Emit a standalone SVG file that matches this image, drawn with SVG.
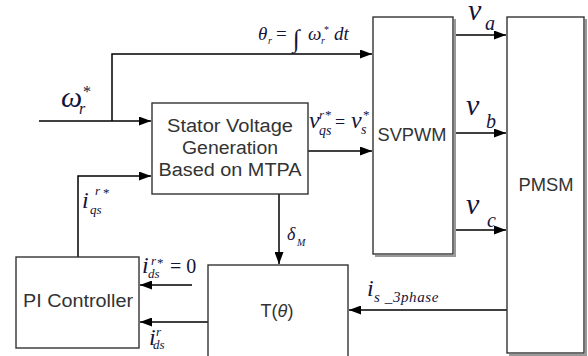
<svg xmlns="http://www.w3.org/2000/svg" width="588" height="356" viewBox="0 0 588 356">
<defs>
<marker id="ah" markerUnits="userSpaceOnUse" markerWidth="13" markerHeight="9" refX="12" refY="4.5" orient="auto"><path d="M0,0 L12,4.5 L0,9 z" fill="#000"/></marker>
<style>
.box{fill:#fff;stroke:#333;stroke-width:1.4}
.sh{fill:none;stroke:#999;stroke-width:2}
.lbl{font-family:"Liberation Sans",Arial,sans-serif;font-size:18px;fill:#333;text-anchor:middle}
.m{font-family:"Liberation Serif","Times New Roman",serif;font-style:italic;fill:#14143a}
.u{font-style:normal}
.ca{fill:none;stroke:#000;stroke-width:1.5;marker-end:url(#ah)}
</style>
</defs>
<rect width="588" height="356" fill="#fff"/>

<g id="connectors">
<path class="ca" d="M39,121 H151"/>
<path class="ca" d="M112,121 V54 H372"/>
<path class="ca" d="M308,151 H372"/>
<path class="ca" d="M455,35 H506"/>
<path class="ca" d="M455,133 H506"/>
<path class="ca" d="M455,230 H506"/>
<path class="ca" d="M279,194 V264"/>
<path class="ca" d="M507,310 H349"/>
<path class="ca" d="M192,285 H140"/>
<path class="ca" d="M208,322 H140"/>
<path class="ca" d="M78,257 V176 H151"/>
</g>

<g id="stator">
<rect class="box" x="152" y="103" width="156" height="91"/>
<text class="lbl" x="230" y="132" textLength="126" lengthAdjust="spacingAndGlyphs">Stator Voltage</text>
<text class="lbl" x="230" y="154" textLength="96" lengthAdjust="spacingAndGlyphs">Generation</text>
<text class="lbl" x="230" y="176" textLength="143" lengthAdjust="spacingAndGlyphs">Based on MTPA</text>
</g>

<g id="svpwm">
<path class="sh" d="M455,19 V256 H375"/>
<rect class="box" x="373" y="17" width="80" height="237"/>
<text class="lbl" x="412" y="141" textLength="69" lengthAdjust="spacingAndGlyphs">SVPWM</text>
</g>

<g id="pmsm">
<path class="sh" d="M586,19 V355 H509"/>
<rect class="box" x="507" y="17" width="77" height="336"/>
<text class="lbl" x="546" y="191" textLength="55" lengthAdjust="spacingAndGlyphs">PMSM</text>
</g>

<g id="pi">
<rect class="box" x="16" y="257" width="123" height="91"/>
<text class="lbl" x="78" y="307" textLength="110" lengthAdjust="spacingAndGlyphs">PI Controller</text>
</g>

<g id="ttheta">
<rect class="box" x="208" y="265" width="140" height="92"/>
<text class="lbl" x="277" y="317">T(<tspan font-style="italic">θ</tspan>)</text>
</g>

<g id="labels">
<text class="m" font-size="19"><tspan x="258" y="40">θ</tspan><tspan x="268" y="44" font-size="10">r</tspan><tspan class="u" x="276" y="40">=</tspan><tspan class="u" x="293" y="47" font-size="25">∫</tspan><tspan x="308" y="40">ω</tspan><tspan x="321" y="44" font-size="10">r</tspan><tspan class="u" x="324" y="33" font-size="10">*</tspan><tspan x="334" y="40">dt</tspan></text>

<text class="m" font-size="30"><tspan x="61" y="107">ω</tspan><tspan class="u" x="83" y="97" font-size="16">*</tspan><tspan x="79" y="114" font-size="16">r</tspan></text>

<text class="m" font-size="24"><tspan x="309" y="128">v</tspan><tspan x="319" y="119" font-size="13">r</tspan><tspan class="u" x="325" y="119" font-size="13">*</tspan><tspan x="319" y="135" font-size="14">qs</tspan><tspan class="u" x="335" y="128" font-size="18">=</tspan><tspan x="351" y="128">v</tspan><tspan class="u" x="363" y="119" font-size="13">*</tspan><tspan x="361" y="134" font-size="14">s</tspan></text>

<text class="m" font-size="30"><tspan x="468" y="20">v</tspan><tspan x="485" y="30" font-size="20">a</tspan></text>
<text class="m" font-size="30"><tspan x="466" y="115">v</tspan><tspan x="486" y="128" font-size="20">b</tspan></text>
<text class="m" font-size="30"><tspan x="466" y="214">v</tspan><tspan x="487" y="227" font-size="20">c</tspan></text>

<text class="m" font-size="24"><tspan x="82" y="208">i</tspan><tspan x="95" y="195" font-size="13">r</tspan><tspan class="u" x="103" y="197" font-size="13">*</tspan><tspan x="90" y="214" font-size="13">qs</tspan></text>

<text class="m" font-size="18"><tspan x="287" y="240">δ</tspan><tspan x="297" y="246" font-size="10">M</tspan></text>

<text class="m" font-size="24"><tspan x="142" y="273">i</tspan><tspan x="151" y="265" font-size="13">r</tspan><tspan class="u" x="157" y="267" font-size="13">*</tspan><tspan x="148" y="278" font-size="13">ds</tspan><tspan class="u" x="170" y="273" font-size="20">= 0</tspan></text>

<text class="m" font-size="24"><tspan x="149" y="345">i</tspan><tspan x="156" y="336" font-size="13">r</tspan><tspan x="153" y="349" font-size="13">ds</tspan></text>

<text class="m" font-size="24"><tspan x="367" y="296">i</tspan><tspan x="374" y="302" font-size="15" letter-spacing="0.6">s _3phase</tspan></text>
</g>
</svg>
